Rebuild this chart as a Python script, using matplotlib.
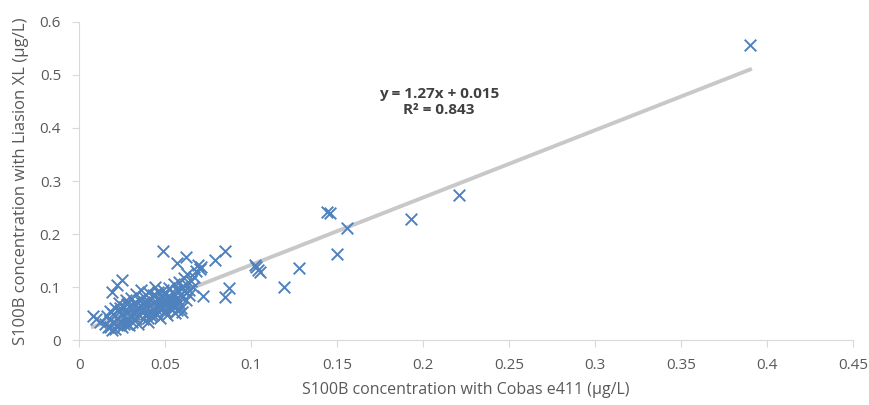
import matplotlib
matplotlib.use("Agg")
import matplotlib.pyplot as plt
import numpy as np

plt.rcParams['font.family'] = ['Open Sans', 'DejaVu Sans']

# S100B measured with Cobas e411 (x) and Liaison XL (y), ug/L
cobas = [
    0.008, 0.010, 0.012, 0.015, 0.016, 0.017, 0.018, 0.018, 0.019, 0.020,
    0.020, 0.021, 0.022, 0.022, 0.023, 0.024, 0.024, 0.025, 0.025, 0.026,
    0.027, 0.027, 0.028, 0.028, 0.029, 0.030, 0.030, 0.031, 0.031, 0.032,
    0.032, 0.033, 0.033, 0.034, 0.034, 0.035, 0.035, 0.036, 0.036, 0.037,
    0.037, 0.038, 0.038, 0.039, 0.039, 0.040, 0.040, 0.041, 0.041, 0.042,
    0.042, 0.043, 0.043, 0.044, 0.044, 0.045, 0.045, 0.046, 0.046, 0.047,
    0.047, 0.048, 0.048, 0.049, 0.049, 0.050, 0.050, 0.051, 0.051, 0.052,
    0.052, 0.053, 0.053, 0.054, 0.054, 0.055, 0.055, 0.056, 0.056, 0.057,
    0.057, 0.058, 0.058, 0.059, 0.059, 0.060, 0.060, 0.061, 0.061, 0.062,
    0.062, 0.063, 0.064, 0.064, 0.065, 0.066, 0.067, 0.068, 0.070, 0.071,
    0.019, 0.022, 0.025, 0.018, 0.021, 0.026, 0.029, 0.040, 0.057, 0.060,
    0.033, 0.036, 0.043, 0.046, 0.052, 0.024, 0.028, 0.038, 0.044, 0.050,
    0.049, 0.062, 0.057, 0.069, 0.079, 0.085, 0.102, 0.104, 0.087, 0.085,
    0.072, 0.103, 0.105, 0.119, 0.128, 0.150, 0.144, 0.146, 0.156, 0.193,
    0.221, 0.390,
]
liaison = [
    0.045, 0.040, 0.035, 0.030, 0.045, 0.025, 0.038, 0.055, 0.020, 0.032,
    0.050, 0.060, 0.028, 0.042, 0.070, 0.035, 0.055, 0.048, 0.025, 0.062,
    0.040, 0.075, 0.030, 0.052, 0.065, 0.045, 0.080, 0.035, 0.058, 0.070,
    0.050, 0.040, 0.088, 0.062, 0.030, 0.075, 0.048, 0.055, 0.095, 0.068,
    0.040, 0.082, 0.058, 0.050, 0.072, 0.035, 0.090, 0.065, 0.078, 0.055,
    0.045, 0.085, 0.070, 0.060, 0.100, 0.050, 0.078, 0.068, 0.090, 0.058,
    0.042, 0.082, 0.072, 0.095, 0.062, 0.055, 0.088, 0.075, 0.048, 0.068,
    0.098, 0.082, 0.060, 0.090, 0.072, 0.105, 0.065, 0.085, 0.052, 0.095,
    0.078, 0.110, 0.070, 0.088, 0.060, 0.100, 0.082, 0.118, 0.092, 0.075,
    0.105, 0.125, 0.095, 0.085, 0.112, 0.100, 0.120, 0.130, 0.135, 0.138,
    0.091, 0.104, 0.113, 0.025, 0.022, 0.030, 0.028, 0.042, 0.057, 0.053,
    0.058, 0.065, 0.048, 0.062, 0.078, 0.060, 0.068, 0.072, 0.085, 0.068,
    0.168, 0.157, 0.145, 0.141, 0.151, 0.168, 0.141, 0.132, 0.098, 0.081,
    0.083, 0.138, 0.128, 0.100, 0.136, 0.162, 0.242, 0.240, 0.211, 0.228,
    0.273, 0.557,
]

slope = 1.27
intercept = 0.015
eq_text = "y = 1.27x + 0.015\nR² = 0.843"

fig = plt.figure(figsize=(8.69, 4.05), dpi=100)
ax = fig.add_axes([0.091, 0.160, 0.891, 0.786])

xs = np.array([min(cobas), max(cobas)])
ax.plot(xs, slope * xs + intercept, color='#c8c8c8', lw=2.8, zorder=1)
ax.scatter(cobas, liaison, marker='x', s=70, color='#4f81bd', linewidths=1.4, zorder=2)

ax.set_xlim(0, 0.45)
ax.set_ylim(0, 0.6)
ax.set_xticks(np.arange(0, 0.451, 0.05))
ax.set_xticklabels(['0', '0.05', '0.1', '0.15', '0.2', '0.25', '0.3', '0.35', '0.4', '0.45'])
ax.set_yticks(np.arange(0, 0.61, 0.1))
ax.set_yticklabels(['0', '0.1', '0.2', '0.3', '0.4', '0.5', '0.6'])

for s in ['top', 'right']:
    ax.spines[s].set_visible(False)
for s in ['left', 'bottom']:
    ax.spines[s].set_color('#d9d9d9')
ax.tick_params(colors='#d9d9d9', labelcolor='#595959', labelsize=11, length=5, pad=8)

ax.set_xlabel("S100B concentration with Cobas e411 (µg/L)", fontsize=11.5, color='#595959', labelpad=6)
ax.set_ylabel("S100B concentration with Liasion XL (µg/L)", fontsize=12, color='#595959', labelpad=8)

ax.text(0.209, 0.449, eq_text, ha='center', va='center', fontsize=11,
        fontweight='bold', color='#404040', linespacing=1.25)

fig.savefig("out.png", dpi=100)
